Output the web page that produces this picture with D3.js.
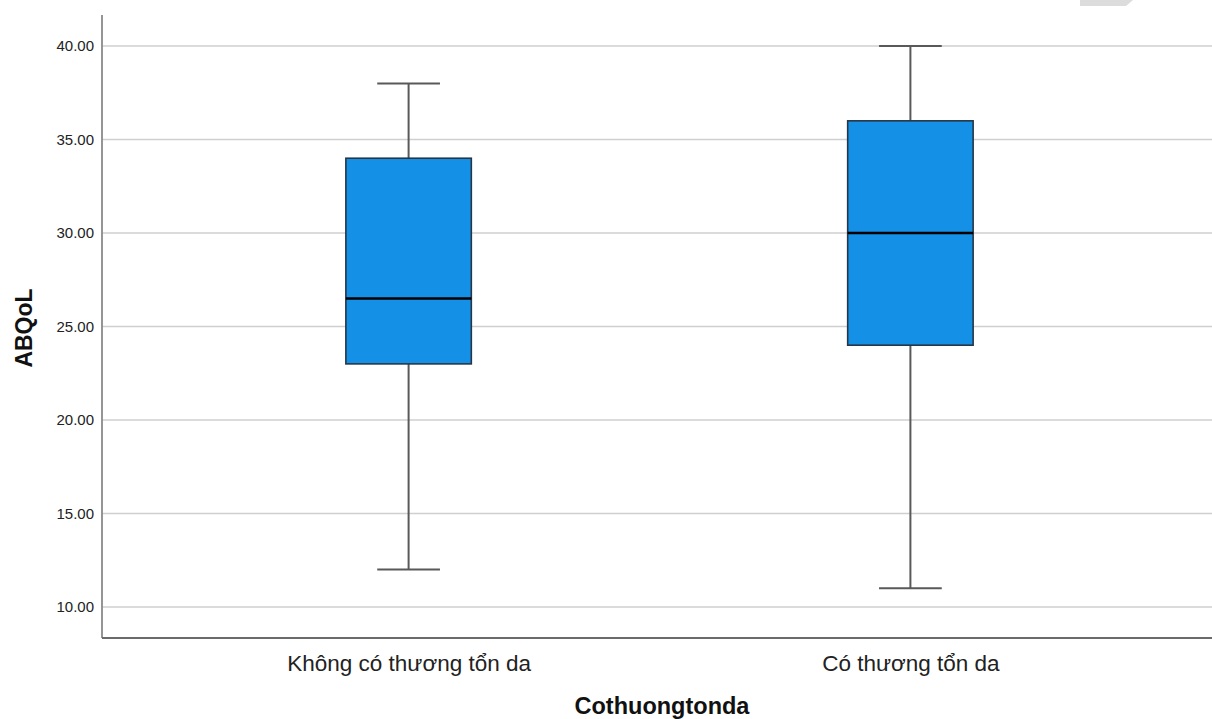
<!DOCTYPE html>
<html>
<head>
<meta charset="utf-8">
<script src="https://cdn.jsdelivr.net/npm/d3@7/dist/d3.min.js"></script>
<style>
  html, body { margin: 0; padding: 0; background: #fff; }
  svg { display: block; }
</style>
</head>
<body>
<svg id="chart" width="1212" height="719"></svg>
<script>
// Box plot summaries of ABQoL by group
const categories = ["Không có thương tổn da", "Có thương tổn da"];
const whiskerLow  = [12, 11];
const q1Values    = [23, 24];
const medians     = [26.5, 30];
const q3Values    = [34, 36];
const whiskerHigh = [38, 40];
const yTicks = [10, 15, 20, 25, 30, 35, 40];

(function () {
  const svg = d3.select("#chart");
  const W = 1212;
  const plotLeft = 102, plotBottom = 638, plotTop = 15;

  const y = d3.scaleLinear().domain([8.34, 41.66]).range([plotBottom, plotTop]);
  const x = d3.scalePoint().domain(categories).range([plotLeft, 1217]).padding(0.611);
  const step = x.step();
  const boxW = step * 0.25;
  const capW = boxW / 2;

  const font = "'Liberation Sans', Arial, sans-serif";

  // faint shape in the top-right corner
  svg.append("path")
    .attr("d", "M1080,0 L1133,0 L1126,6 L1080,6 Z")
    .attr("fill", "#dcdcdc");

  // horizontal gridlines
  svg.append("g").selectAll("line").data(yTicks).join("line")
    .attr("x1", plotLeft).attr("x2", W)
    .attr("y1", d => y(d)).attr("y2", d => y(d))
    .attr("stroke", "#cfcfcf").attr("stroke-width", 1.6);

  // y axis
  const yAxis = d3.axisLeft(y).tickValues(yTicks).tickFormat(d3.format(".2f")).tickSize(0).tickPadding(8);
  const gy = svg.append("g").attr("transform", `translate(${plotLeft},0)`).call(yAxis);
  gy.select(".domain").remove();
  gy.selectAll("text").attr("font-family", font).attr("font-size", 15).attr("fill", "#222");

  svg.append("line").attr("x1", plotLeft).attr("x2", plotLeft).attr("y1", plotTop).attr("y2", plotBottom)
    .attr("stroke", "#8a8a8a").attr("stroke-width", 1.8);
  svg.append("line").attr("x1", plotLeft).attr("x2", W).attr("y1", plotBottom).attr("y2", plotBottom)
    .attr("stroke", "#6a6a6a").attr("stroke-width", 1.8);

  // x axis labels
  const xAxis = d3.axisBottom(x).tickSize(0).tickPadding(17);
  const gx = svg.append("g").attr("transform", `translate(0,${plotBottom})`).call(xAxis);
  gx.select(".domain").remove();
  gx.selectAll("text").attr("font-family", font).attr("font-size", 22.5).attr("fill", "#222");

  // boxes
  const data = categories.map((c, i) => ({
    c, lo: whiskerLow[i], q1: q1Values[i], med: medians[i], q3: q3Values[i], hi: whiskerHigh[i]
  }));
  const g = svg.append("g").selectAll("g").data(data).join("g");

  // whisker stems
  g.append("line")
    .attr("x1", d => x(d.c)).attr("x2", d => x(d.c))
    .attr("y1", d => y(d.hi)).attr("y2", d => y(d.q3))
    .attr("stroke", "#595959").attr("stroke-width", 2);
  g.append("line")
    .attr("x1", d => x(d.c)).attr("x2", d => x(d.c))
    .attr("y1", d => y(d.q1)).attr("y2", d => y(d.lo))
    .attr("stroke", "#595959").attr("stroke-width", 2);
  // caps
  g.append("line")
    .attr("x1", d => x(d.c) - capW / 2).attr("x2", d => x(d.c) + capW / 2)
    .attr("y1", d => y(d.hi)).attr("y2", d => y(d.hi))
    .attr("stroke", "#595959").attr("stroke-width", 2);
  g.append("line")
    .attr("x1", d => x(d.c) - capW / 2).attr("x2", d => x(d.c) + capW / 2)
    .attr("y1", d => y(d.lo)).attr("y2", d => y(d.lo))
    .attr("stroke", "#595959").attr("stroke-width", 2);
  // box
  g.append("rect")
    .attr("x", d => x(d.c) - boxW / 2).attr("width", boxW)
    .attr("y", d => y(d.q3)).attr("height", d => y(d.q1) - y(d.q3))
    .attr("fill", "#1490e6").attr("stroke", "#263646").attr("stroke-width", 1.6);
  // median
  g.append("line")
    .attr("x1", d => x(d.c) - boxW / 2).attr("x2", d => x(d.c) + boxW / 2)
    .attr("y1", d => y(d.med)).attr("y2", d => y(d.med))
    .attr("stroke", "#000").attr("stroke-width", 2.6);

  // axis titles
  svg.append("text")
    .attr("transform", `translate(32,328) rotate(-90)`)
    .attr("text-anchor", "middle").attr("font-family", font).attr("font-weight", "bold")
    .attr("font-size", 23).attr("fill", "#111").text("ABQoL");
  svg.append("text")
    .attr("x", 662).attr("y", 714)
    .attr("text-anchor", "middle").attr("font-family", font).attr("font-weight", "bold")
    .attr("font-size", 23.5).attr("fill", "#111").text("Cothuongtonda");
})();
</script>
</body>
</html>
